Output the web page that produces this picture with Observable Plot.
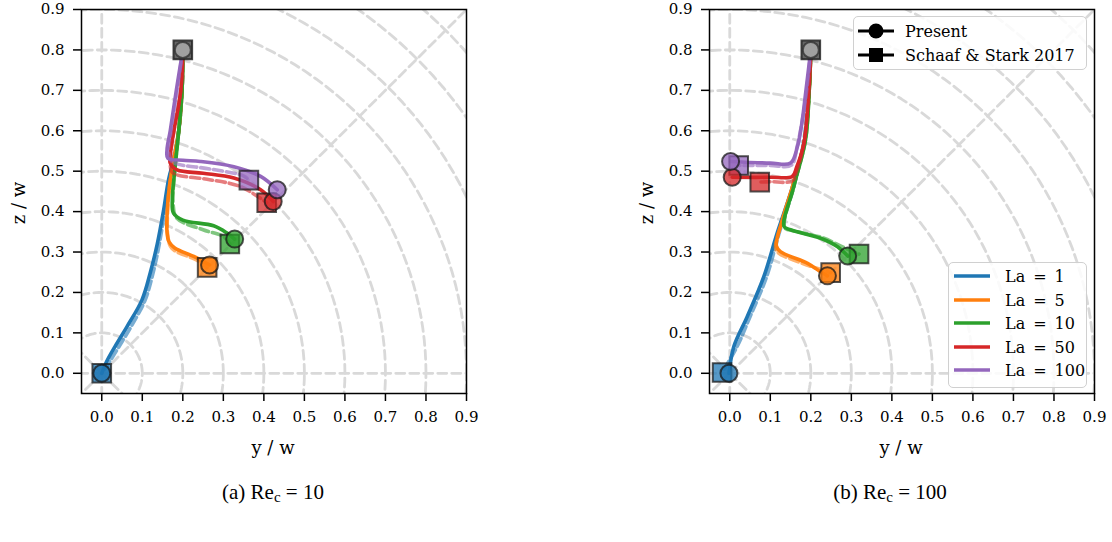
<!DOCTYPE html>
<html>
<head>
<meta charset="utf-8">
<script src="https://cdn.jsdelivr.net/npm/d3@7"></script>
<script src="https://cdn.jsdelivr.net/npm/@observablehq/plot@0.6"></script>
<style>
  body { margin:0; background:#fff; width:1112px; height:542px; position:relative; overflow:hidden; font-family:"DejaVu Serif", serif; }
  .panel { position:absolute; top:0; width:480px; height:460px; }
  .axlabel { position:absolute; font-family:"DejaVu Serif", serif; font-size:18px; white-space:nowrap; transform:translate(-50%,-50%); }
  .ylab { transform:translate(-50%,-50%) rotate(-90deg); }
  .caption { position:absolute; top:480px; font-family:"Liberation Serif","Times New Roman",serif; font-size:21px; white-space:nowrap; transform:translateX(-50%); }
  .caption sub { font-size:15px; vertical-align:-3px; }
  .legend { position:absolute; border:1.5px solid #d0d0d0; border-radius:5px; background:rgba(255,255,255,0.85); box-sizing:border-box; }
  .entry { position:absolute; left:0; font-family:"DejaVu Serif", serif; font-size:16px; white-space:nowrap; }
  .entry svg { position:absolute; left:0; top:0; overflow:visible; }
  .entry span { position:absolute; transform:translateY(-50%); }
  svg [aria-label="x-axis tick"] path, svg [aria-label="y-axis tick"] path { stroke-width:1.5; }
</style>
</head>
<body>
<div id="pa" class="panel" style="left:0px"></div>
<div id="pb" class="panel" style="left:628px"></div>

<div class="axlabel" style="left:273px; top:447px">y / w</div>
<div class="axlabel ylab" style="left:18px; top:203px">z / w</div>
<div class="axlabel" style="left:901px; top:447px">y / w</div>
<div class="axlabel ylab" style="left:646px; top:203px">z / w</div>

<div class="caption" style="left:273px">(a) Re<sub>c</sub> = 10</div>
<div class="caption" style="left:890px">(b) Re<sub>c</sub> = 100</div>

<div id="legMarkers" class="legend" style="left:853px; top:16px; width:234px; height:54px"></div>
<div id="legLa" class="legend" style="left:948px; top:262px; width:139px; height:126px"></div>

<script>
// ---------------- data ----------------
const laValues = [1, 5, 10, 50, 100];
const laColors = ["#1f77b4", "#ff7f0e", "#2ca02c", "#d62728", "#9467bd"];
const sourceNames = ["Present", "Schaaf & Stark 2017"];
const tickValues = [0, 0.1, 0.2, 0.3, 0.4, 0.5, 0.6, 0.7, 0.8, 0.9];
const gridRadii = [0.1, 0.2, 0.3, 0.4, 0.5, 0.6, 0.7, 0.8, 0.9, 1.0, 1.1, 1.2, 1.3];
const gridAngles = [0, 45, 90, 135, 180, 225, 270, 315];
const startPoint = [0.2, 0.8];

// Re_c = 10 — present (solid), [y/w, z/w]
const re10PresentLa1   = [[0.2,0.8],[0.198,0.7],[0.19,0.6],[0.178,0.53],[0.165,0.48],[0.152,0.4],[0.137,0.32],[0.12,0.25],[0.099,0.181],[0.062,0.115],[0.035,0.07],[0.012,0.029],[0,0]];
const re10PresentLa5   = [[0.2,0.8],[0.198,0.7],[0.19,0.6],[0.178,0.53],[0.168,0.47],[0.162,0.41],[0.161,0.35],[0.166,0.325],[0.18,0.31],[0.227,0.289],[0.266,0.268]];
const re10PresentLa10  = [[0.2,0.8],[0.198,0.7],[0.19,0.6],[0.18,0.5],[0.174,0.43],[0.177,0.396],[0.2,0.379],[0.276,0.365],[0.309,0.347],[0.328,0.332]];
const re10PresentLa50  = [[0.2,0.8],[0.195,0.7],[0.178,0.6],[0.17,0.55],[0.169,0.52],[0.186,0.503],[0.25,0.495],[0.326,0.483],[0.392,0.454],[0.423,0.425]];
const re10PresentLa100 = [[0.2,0.8],[0.184,0.7],[0.169,0.6],[0.161,0.553],[0.163,0.532],[0.2,0.527],[0.243,0.524],[0.326,0.511],[0.392,0.487],[0.433,0.454]];
// Re_c = 10 — Schaaf & Stark 2017 (dashed)
const re10SchaafLa1   = [[0.2,0.8],[0.198,0.7],[0.19,0.6],[0.177,0.53],[0.167,0.48],[0.155,0.4],[0.142,0.32],[0.127,0.25],[0.107,0.181],[0.072,0.115],[0.045,0.07],[0.02,0.03],[0,0]];
const re10SchaafLa5   = [[0.2,0.8],[0.198,0.7],[0.19,0.6],[0.178,0.53],[0.168,0.47],[0.163,0.41],[0.163,0.34],[0.173,0.309],[0.235,0.28],[0.26,0.262]];
const re10SchaafLa10  = [[0.2,0.8],[0.198,0.7],[0.19,0.6],[0.18,0.5],[0.176,0.42],[0.185,0.384],[0.25,0.355],[0.301,0.338],[0.316,0.32]];
const re10SchaafLa50  = [[0.2,0.8],[0.195,0.7],[0.178,0.6],[0.17,0.54],[0.172,0.5],[0.185,0.491],[0.26,0.48],[0.342,0.462],[0.407,0.422]];
const re10SchaafLa100 = [[0.2,0.8],[0.186,0.7],[0.171,0.6],[0.165,0.55],[0.172,0.525],[0.185,0.518],[0.27,0.505],[0.351,0.488],[0.363,0.478]];

// Re_c = 100 — present (solid)
const re100PresentLa1   = [[0.2,0.8],[0.196,0.7],[0.185,0.578],[0.155,0.462],[0.117,0.347],[0.084,0.239],[0.043,0.14],[0.01,0.066],[-0.002,0]];
const re100PresentLa5   = [[0.2,0.8],[0.196,0.7],[0.185,0.578],[0.155,0.462],[0.13,0.38],[0.115,0.315],[0.125,0.301],[0.192,0.272],[0.224,0.251],[0.241,0.241]];
const re100PresentLa10  = [[0.2,0.8],[0.196,0.7],[0.187,0.578],[0.158,0.462],[0.134,0.363],[0.15,0.355],[0.224,0.334],[0.266,0.313],[0.291,0.29]];
const re100PresentLa50  = [[0.2,0.8],[0.195,0.7],[0.183,0.569],[0.165,0.51],[0.154,0.487],[0.1,0.485],[0.006,0.485]];
const re100PresentLa100 = [[0.2,0.8],[0.188,0.7],[0.178,0.62],[0.167,0.561],[0.15,0.52],[0.1,0.52],[0.002,0.524]];
// Re_c = 100 — Schaaf & Stark 2017 (dashed)
const re100SchaafLa1   = [[0.2,0.8],[0.193,0.7],[0.183,0.578],[0.158,0.462],[0.122,0.347],[0.091,0.239],[0.05,0.14],[0.018,0.066],[-0.019,0.002]];
const re100SchaafLa5   = [[0.2,0.8],[0.196,0.7],[0.185,0.578],[0.155,0.462],[0.13,0.38],[0.113,0.31],[0.12,0.298],[0.19,0.268],[0.249,0.249]];
const re100SchaafLa10  = [[0.2,0.8],[0.196,0.7],[0.187,0.578],[0.158,0.462],[0.136,0.36],[0.16,0.352],[0.23,0.335],[0.28,0.312],[0.319,0.295]];
const re100SchaafLa50  = [[0.2,0.8],[0.195,0.7],[0.183,0.569],[0.165,0.5],[0.155,0.476],[0.1,0.474],[0.074,0.473]];
const re100SchaafLa100 = [[0.2,0.8],[0.19,0.7],[0.178,0.62],[0.166,0.56],[0.152,0.515],[0.1,0.514],[0.022,0.514]];

// ---------------- build tables ----------------
const panels = [
  { id: "pa", present: [re10PresentLa1, re10PresentLa5, re10PresentLa10, re10PresentLa50, re10PresentLa100],
               schaaf:  [re10SchaafLa1, re10SchaafLa5, re10SchaafLa10, re10SchaafLa50, re10SchaafLa100] },
  { id: "pb", present: [re100PresentLa1, re100PresentLa5, re100PresentLa10, re100PresentLa50, re100PresentLa100],
               schaaf:  [re100SchaafLa1, re100SchaafLa5, re100SchaafLa10, re100SchaafLa50, re100SchaafLa100] }
];

// polar reference grid (derived from the radius / angle lists)
const circleRows = [];
for (const r of gridRadii) for (let a = 0; a <= 360; a += 2) {
  const t = a * Math.PI / 180;
  circleRows.push({ r, x: r * Math.cos(t), y: r * Math.sin(t) });
}
const radialRows = [];
for (const a of gridAngles) for (const r of [0, 1.5]) {
  const t = a * Math.PI / 180;
  radialRows.push({ a, x: r * Math.cos(t), y: r * Math.sin(t) });
}

const gridStyle = { stroke: "#d9d9d9", strokeWidth: 2.8, strokeDasharray: "9,5", clip: true, curve: "linear" };

function makePanel(p) {
  const marks = [
    Plot.line(circleRows, { x: "x", y: "y", z: "r", ...gridStyle }),
    Plot.line(radialRows, { x: "x", y: "y", z: "a", ...gridStyle }),
  ];
  laValues.forEach((la, i) => {
    const col = laColors[i];
    const sol = p.present[i].map(([x, y]) => ({ x, y }));
    const das = p.schaaf[i].map(([x, y]) => ({ x, y }));
    marks.push(Plot.line(sol, { x: "x", y: "y", stroke: col, strokeWidth: 3.6, curve: "catmull-rom" }));
    marks.push(Plot.line(das, { x: "x", y: "y", stroke: col, strokeWidth: 3.6, strokeOpacity: 0.6, strokeDasharray: "9,4", curve: "catmull-rom" }));
  });
  const sqEnds = laValues.map((la, i) => { const e = p.schaaf[i][p.schaaf[i].length - 1]; return { x: e[0], y: e[1], c: laColors[i] }; });
  const ciEnds = laValues.map((la, i) => { const e = p.present[i][p.present[i].length - 1]; return { x: e[0], y: e[1], c: laColors[i] }; });
  const start = [{ x: startPoint[0], y: startPoint[1] }];
  marks.push(
    Plot.dot(sqEnds, { x: "x", y: "y", symbol: "square", r: 10.5, fill: "c", fillOpacity: 0.75, stroke: "#1a1a1a", strokeOpacity: 0.75, strokeWidth: 2 }),
    Plot.dot(ciEnds, { x: "x", y: "y", symbol: "circle", r: 8.5, fill: "c", fillOpacity: 0.75, stroke: "#1a1a1a", strokeOpacity: 0.75, strokeWidth: 2 }),
    Plot.dot(start, { x: "x", y: "y", symbol: "square", r: 10.5, fill: "#555", fillOpacity: 0.9, stroke: "#1a1a1a", strokeOpacity: 0.8, strokeWidth: 2 }),
    Plot.dot(start, { x: "x", y: "y", symbol: "circle", r: 8, fill: "#a0a0a0", stroke: "#333", strokeOpacity: 0.8, strokeWidth: 2 }),
    Plot.frame({ stroke: "black", strokeWidth: 1.5 })
  );
  const chart = Plot.plot({
    width: 480, height: 460,
    marginLeft: 81, marginRight: 14, marginTop: 9, marginBottom: 67,
    style: { fontFamily: "DejaVu Serif, serif", fontSize: "15px", color: "black", background: "transparent", overflow: "visible" },
    x: { domain: [-0.05, 0.9], ticks: tickValues, tickFormat: d => d.toFixed(1), tickSize: 8, tickPadding: 10, label: null },
    y: { domain: [-0.05, 0.9], ticks: tickValues, tickFormat: d => d.toFixed(1), tickSize: 8, tickPadding: 9, label: null },
    color: { type: "identity" },
    marks
  });
  document.getElementById(p.id).appendChild(chart);
}
panels.forEach(makePanel);

// ---------------- legends ----------------
function addEntry(parent, top, left, swatch, text, textLeft) {
  const e = document.createElement("div");
  e.className = "entry";
  e.style.top = top + "px";
  e.style.left = left + "px";
  e.innerHTML = `<svg width="1" height="1">${swatch}</svg><span style="left:${textLeft}px">${text}</span>`;
  parent.appendChild(e);
}
const legM = document.getElementById("legMarkers");
addEntry(legM, 14, 4, `<line x1="0" x2="36" y1="0" y2="0" stroke="black" stroke-width="3.2"/><circle cx="18" cy="0" r="7.5" fill="black"/>`, sourceNames[0], 47);
addEntry(legM, 37.5, 4, `<line x1="0" x2="36" y1="0" y2="0" stroke="black" stroke-width="3.2"/><rect x="11" y="-7" width="14" height="14" fill="black"/>`, sourceNames[1], 47);

const legL = document.getElementById("legLa");
laValues.forEach((la, i) => {
  addEntry(legL, 13 + i * 23.5, 5, `<line x1="0" x2="36" y1="0" y2="0" stroke="${laColors[i]}" stroke-width="3.5"/>`, `La\u2002=\u2002${la}`, 51);
});
</script>
</body>
</html>
